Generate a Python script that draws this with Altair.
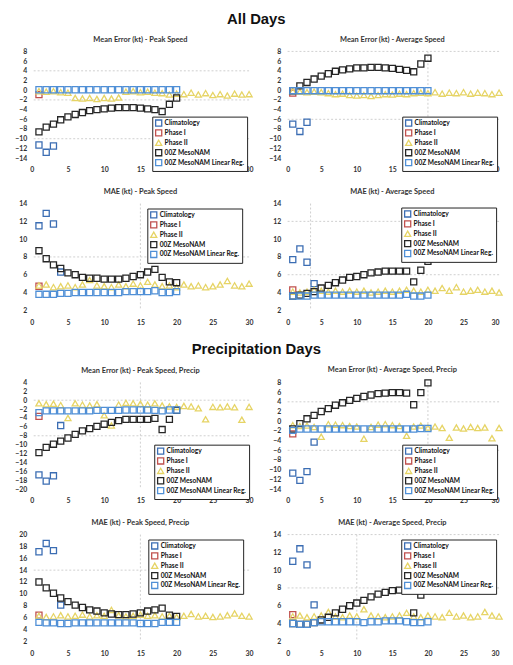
import altair as alt
import pandas as pd

SERIES = ["Climatology", "Phase I", "Phase II", "00Z MesoNAM", "00Z MesoNAM Linear Reg."]
COLORS = ["#3B6DB3", "#C0504D", "#E6D465", "#262626", "#4F8FD6"]
SHAPES = ["square", "square", "triangle-up", "square", "square"]
SIZES = [38, 38, 15, 38, 38]
X_TICKS = [0, 5, 10, 15, 20, 25, 30]

TITLES = [
    "Mean Error (kt) - Peak Speed", "Mean Error (kt) - Average Speed",
    "MAE (kt) - Peak Speed", "MAE (kt) - Average Speed",
    "Mean Error (kt) - Peak Speed, Precip", "Mean Error (kt) - Average Speed, Precip",
    "MAE (kt) - Peak Speed, Precip", "MAE (kt) - Average Speed, Precip",
]

# Climatology (days 1..)
clim = [
    [-11.3, -12.8, -11.5],
    [-7.0, -8.5, -6.6],
    [11.5, 12.9, 11.7, 6.3],
    [7.7, 8.9, 7.4, 5.0],
    [-16.8, -18.2, -17.0, -5.7],
    [-10.7, -12.2, -10.4, -4.3],
    [17.1, 18.5, 17.3, 8.1],
    [11.0, 12.4, 10.6, 6.1],
]
# Phase I (day 1)
phase1 = [[-0.9], [-0.6], [4.7], [4.3], [-3.65], [-2.6], [6.4], [5.0]]
# Phase II (days 1..30)
phase2 = [
    [-0.2, -0.3, -0.2, -0.4, -0.5, -1.6, -1.7, -1.6, -1.8, -1.6, -1.7, -1.5, -0.3, -0.2, -0.4,
     -0.3, -0.5, -0.6, -0.9, -0.7, -0.8, -0.5, -0.9, -0.6, -1.0, -0.8, -1.1, -0.7, -0.9, -0.8],
    [-0.2, -0.3, -0.4, -0.3, -0.4, -0.6, -0.8, -0.7, -1.0, -1.1, -1.0, -1.2, -1.0, -0.8, -0.9,
     -0.7, -0.8, -0.6, -0.5, -0.6, -0.4, -0.7, -0.5, -0.6, -0.4, -0.7, -0.5, -0.6, -0.8, -0.5],
    [4.8, 4.9, 4.6, 4.7, 4.8, 4.6, 4.9, 5.4, 4.8, 4.7, 4.6, 4.9, 4.7, 5.0, 4.8,
     5.2, 4.9, 4.7, 4.8, 4.6, 4.9, 4.7, 4.8, 4.6, 4.7, 4.9, 5.3, 4.8, 4.7, 5.0],
    [4.1, 4.0, 4.1, 4.3, 4.2, 4.1, 4.2, 4.1, 4.2, 4.1, 4.2, 4.0, 4.1, 4.2, 4.1,
     4.2, 4.3, 4.2, 4.1, 4.3, 4.2, 4.5, 4.2, 4.6, 4.1, 4.2, 4.3, 4.1, 4.2, 4.0],
    [-0.7, -0.9, -0.8, -1.1, -4.0, -0.7, -1.0, -1.2, -0.9, -3.4, -5.7, -1.0, -0.6, -0.7, -0.8,
     -1.0, -0.7, -1.2, -1.4, -1.5, -1.3, -1.4, -1.8, -4.3, -1.5, -1.6, -1.4, -1.6, -4.4, -1.5],
    [-0.8, -1.0, -0.9, -1.2, -3.2, -0.6, -0.7, -0.8, -1.0, -1.1, -3.6, -1.2, -0.7, -0.6, -0.8,
     -1.0, -3.0, -1.1, -0.9, -1.3, -1.1, -1.4, -3.4, -1.3, -1.5, -1.2, -1.4, -1.3, -3.5, -1.4],
    [6.3, 6.1, 6.2, 6.4, 6.2, 6.3, 6.5, 6.2, 6.4, 6.3, 7.3, 6.4, 6.2, 6.3, 6.5,
     6.3, 6.4, 6.2, 6.3, 6.1, 6.3, 6.6, 6.2, 6.3, 6.1, 6.2, 6.4, 6.7, 6.3, 6.2],
    [4.8, 4.9, 4.7, 4.8, 4.9, 5.3, 4.8, 4.7, 4.9, 4.8, 5.6, 4.9, 4.8, 4.7, 4.8,
     4.9, 5.2, 4.8, 4.7, 4.9, 4.8, 4.7, 5.2, 4.8, 4.9, 4.7, 4.8, 5.3, 4.9, 4.8],
]
# 00Z MesoNAM (days 1..20)
meso = [
    [-8.6, -7.6, -7.0, -6.1, -5.5, -5.0, -4.6, -4.2, -4.0, -3.85, -3.7, -3.6, -3.6, -3.6, -3.7,
     -3.85, -4.0, -4.4, -2.9, -1.6],
    [-0.1, 0.9, 1.6, 2.3, 2.9, 3.4, 3.9, 4.2, 4.4, 4.6, 4.6, 4.7, 4.7, 4.6, 4.5, 4.3, 4.1, 3.8, 5.4, 6.6],
    [8.7, 7.8, 7.1, 6.7, 6.2, 6.0, 5.7, 5.6, 5.6, 5.5, 5.5, 5.5, 5.6, 5.8, 6.0, 6.3, 6.6, 5.7, 5.2, 5.1],
    [3.6, 3.7, 3.9, 4.1, 4.5, 4.8, 5.1, 5.4, 5.7, 5.8, 6.0, 6.2, 6.3, 6.4, 6.4, 6.4, 6.4, 5.2, 6.5, 7.5],
    [-11.8, -10.6, -9.9, -9.2, -8.5, -7.7, -6.9, -6.4, -5.9, -5.4, -5.0, -4.6, -4.3, -4.3, -4.3,
     -4.3, -4.1, -6.6, -4.3, -2.3],
    [-1.6, -0.5, 0.5, 1.2, 2.0, 2.6, 3.3, 3.8, 4.3, 4.7, 5.1, 5.4, 5.7, 5.8, 5.9, 5.9, 5.8, 3.4, 5.9, 7.9],
    [12.0, 11.0, 10.1, 9.3, 8.7, 8.1, 7.7, 7.3, 7.1, 6.8, 6.6, 6.5, 6.5, 6.6, 6.8, 7.1, 7.3, 7.6, 6.4, 6.2],
    [4.0, 3.9, 3.9, 4.1, 4.4, 4.7, 5.2, 5.6, 6.0, 6.3, 6.6, 7.0, 7.3, 7.5, 7.7, 7.75, 7.85, 5.2, 7.2, 8.8],
]
# 00Z MesoNAM Linear Reg. (days 1..20)
linreg = [
    [0.1] * 20,
    [-0.1] * 20,
    [3.8, 3.8, 3.8, 3.9, 3.9, 4.0, 4.0, 4.0, 4.0, 4.0, 4.0, 4.0, 4.1, 4.1, 4.1, 4.1, 4.2, 4.0, 4.0, 4.1],
    [3.6, 3.6, 3.6, 3.7, 3.7, 3.7, 3.7, 3.7, 3.7, 3.7, 3.7, 3.7, 3.7, 3.7, 3.7, 3.7, 3.8, 3.6, 3.6, 3.7],
    [-2.8, -2.4, -2.4, -2.4, -2.4, -2.4, -2.4, -2.4, -2.3, -2.3, -2.3, -2.3, -2.2, -2.2, -2.2,
     -2.2, -2.3, -2.4, -2.2, -2.2],
    [-1.9, -1.6, -1.6, -1.6, -1.6, -1.6, -1.6, -1.6, -1.6, -1.6, -1.6, -1.6, -1.6, -1.6, -1.6,
     -1.6, -1.6, -1.6, -1.5, -1.5],
    [5.2, 5.1, 5.1, 5.0, 5.0, 5.1, 5.1, 5.1, 5.1, 5.1, 5.1, 5.1, 5.1, 5.1, 5.0, 5.0, 5.0, 5.2, 5.2, 5.2],
    [4.0, 3.9, 3.9, 4.1, 4.2, 4.2, 4.2, 4.2, 4.2, 4.2, 4.1, 4.2, 4.2, 4.3, 4.3, 4.3, 4.2, 4.1, 4.1, 4.2],
]
Y_DOMAINS = [[-14, 8], [-14, 8], [2, 14], [2, 14], [-20, 4], [-14, 8], [2, 20], [2, 14]]
# faint background lines seen on the slide
H_LINES = [[4, -2, -10], [8, -6], [8], [12, 6], [0, -8], [4, -6], [14], [8, 14]]
V_LINES = [[], [20], [15], [3.5], [15], [20], [15], [10]]
LEGEND_POS = [(122, 66), (118, 66), (117, 5), (117, 4), (124, 63), (118, 63), (118, 5), (117, 5)]

WL, WR, H = 220, 216, 108
FONT = "Lato"


def panel(i):
    rows = []
    for name, vals in zip(SERIES, [clim[i], phase1[i], phase2[i], meso[i], linreg[i]]):
        for d, v in enumerate(vals):
            rows.append({"series": name, "day": d + 1, "value": v})
    df = pd.DataFrame(rows)
    lo, hi = Y_DOMAINS[i]
    right = i % 2 == 1
    xs = alt.X("day:Q", scale=alt.Scale(domain=[0, 30], nice=False),
               axis=alt.Axis(values=X_TICKS, title=None, grid=False, ticks=False,
                             domain=False, labelPadding=8, labelFlush=right))
    ys = alt.Y("value:Q", scale=alt.Scale(domain=[lo, hi], nice=False, zero=False),
               axis=alt.Axis(values=list(range(lo, hi + 1, 2)), title=None, grid=False,
                             ticks=False, domain=False, labelPadding=5,
                             minExtent=24, maxExtent=24))
    lx, ly = LEGEND_POS[i]
    leg = alt.Legend(orient="none", legendX=lx, legendY=ly, title=None, symbolSize=30,
                     rowPadding=-4.5, labelFontSize=6.7, padding=2.5, symbolStrokeWidth=1.3)
    pts = alt.Chart(df).mark_point(filled=False, strokeWidth=1.3, opacity=1).encode(
        x=xs, y=ys,
        color=alt.Color("series:N", scale=alt.Scale(domain=SERIES, range=COLORS), legend=leg),
        shape=alt.Shape("series:N", scale=alt.Scale(domain=SERIES, range=SHAPES), legend=leg),
        size=alt.Size("series:N", scale=alt.Scale(domain=SERIES, range=SIZES), legend=None),
    )
    layers = []
    if H_LINES[i]:
        hdf = pd.DataFrame({"value": H_LINES[i]})
        layers.append(alt.Chart(hdf).mark_rule(color="#c4c4c4", strokeDash=[2, 2],
                                               strokeWidth=0.8).encode(y=ys))
    if V_LINES[i]:
        vdf = pd.DataFrame({"day": V_LINES[i]})
        layers.append(alt.Chart(vdf).mark_rule(color="#c4c4c4", strokeDash=[2, 2],
                                               strokeWidth=0.8).encode(x=xs))
    layers.append(pts)
    w = WR if right else WL
    return alt.layer(*layers).properties(
        width=w, height=H,
        title=alt.TitleParams(TITLES[i], fontSize=7.5, font=FONT, fontWeight="bold",
                              color="#333333", offset=4),
    )


def res(c):
    return c.resolve_scale(x="independent", y="independent", color="independent",
                           shape="independent", size="independent")


def row(a, b):
    return res(alt.hconcat(panel(a), panel(b), spacing=7))


big = dict(fontSize=15, font="Liberation Sans", fontWeight="bold", color="#111111",
           anchor="middle", offset=9)
g1 = res(alt.vconcat(row(0, 1), row(2, 3), spacing=15)).properties(
    title=alt.TitleParams("All Days", **big))
g2 = res(alt.vconcat(row(4, 5), row(6, 7), spacing=15)).properties(
    title=alt.TitleParams("Precipitation Days", **big))

chart = res(alt.vconcat(g1, g2, spacing=17)).properties(
    padding={"left": 0, "top": 0, "right": 0, "bottom": 0},
    background="white",
).configure_view(stroke=None).configure_axis(
    labelFont=FONT, labelFontSize=7, labelFontWeight="bold", labelColor="#333333"
).configure_legend(
    fillColor="white", strokeColor="#222222", labelFont=FONT,
    labelFontWeight="bold", labelColor="#111111", labelLimit=200, labelOffset=2,
    cornerRadius=0,
)

chart.save("out.html", embed_options={"renderer": "svg", "actions": False})
